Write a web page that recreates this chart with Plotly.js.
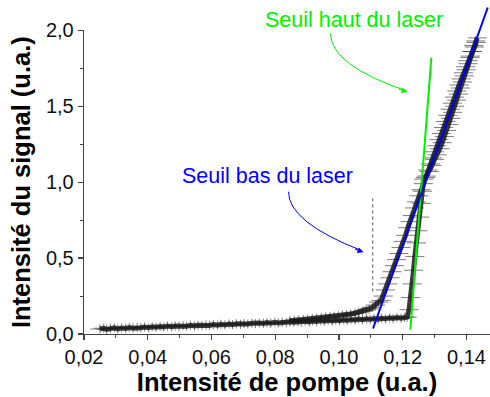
<!DOCTYPE html>
<html>
<head>
<meta charset="utf-8">
<script src="https://cdn.plot.ly/plotly-3.0.1.min.js"></script>
<style>html,body{margin:0;padding:0;background:#fff}#chart{width:490px;height:397px}</style>
</head>
<body>
<div id="chart"></div>
<script>
// Montée (branche inférieure puis saut)
const xUp = [0.0250,0.0262,0.0271,0.0283,0.0295,0.0306,0.0318,0.0331,0.0342,0.0354,0.0367,0.0378,0.0390,0.0403,0.0414,0.0426,0.0439,0.0450,0.0462,0.0475,0.0486,0.0498,0.0511,0.0522,0.0534,0.0547,0.0558,0.0570,0.0583,0.0594,0.0606,0.0619,0.0630,0.0642,0.0655,0.0666,0.0678,0.0691,0.0702,0.0714,0.0727,0.0738,0.0750,0.0763,0.0774,0.0786,0.0799,0.0810,0.0822,0.0835,0.0846,0.0858,0.0871,0.0882,0.0894,0.0907,0.0918,0.0930,0.0943,0.0954,0.0966,0.0979,0.0990,0.1002,0.1015,0.1026,0.1038,0.1051,0.1062,0.1074,0.1087,0.1098,0.1110,0.1123,0.1134,0.1146,0.1159,0.1170,0.1182,0.1195,0.1206,0.1214,
  0.1220,0.1225,0.1230,0.1234,0.1238,0.1243,0.1248,0.1253,0.1258,0.1262,0.1266,
  0.1274,0.1283,0.1292,0.1300,0.1308,0.1316,0.1324,0.1331,0.1338,0.1345,0.1351,0.1357,0.1363,0.1369,0.1375,0.1381,0.1387,0.1393,0.1399,0.1405,0.1411,0.1417,0.1423,0.1429,0.1434];
const yUp = [0.033,0.038,0.030,0.036,0.041,0.034,0.040,0.037,0.043,0.038,0.044,0.041,0.046,0.042,0.048,0.044,0.049,0.046,0.052,0.048,0.053,0.050,0.055,0.051,0.057,0.053,0.058,0.055,0.060,0.056,0.062,0.058,0.064,0.060,0.066,0.062,0.067,0.064,0.069,0.066,0.071,0.068,0.073,0.070,0.075,0.071,0.077,0.073,0.078,0.075,0.080,0.077,0.082,0.078,0.084,0.080,0.086,0.082,0.088,0.084,0.090,0.086,0.092,0.088,0.094,0.090,0.096,0.092,0.098,0.094,0.100,0.096,0.102,0.098,0.104,0.100,0.106,0.102,0.108,0.104,0.110,0.112,
  0.16,0.24,0.33,0.42,0.51,0.60,0.68,0.77,0.86,0.94,1.02,
  1.04,1.07,1.11,1.15,1.18,1.22,1.26,1.30,1.34,1.38,1.42,1.46,1.50,1.54,1.58,1.62,1.66,1.70,1.74,1.78,1.82,1.86,1.90,1.93,1.95];
// Descente (branche de retour)
const xDown = [0.1431,0.1425,0.1419,0.1412,0.1405,0.1398,0.1391,0.1384,0.1377,0.1370,0.1363,0.1356,0.1349,0.1342,0.1335,0.1328,0.1321,0.1314,0.1307,0.1300,0.1293,0.1286,0.1279,0.1272,0.1265,0.1258,0.1251,0.1244,0.1237,0.1230,0.1223,0.1216,0.1209,0.1202,0.1195,0.1188,0.1181,0.1174,0.1167,0.1160,0.1153,0.1146,0.1139,0.1132,0.1124,0.1115,0.1105,0.1095,0.1085,0.1074,0.1062,0.1050,0.1037,0.1024,0.1011,0.0998,0.0985,0.0972,0.0958,0.0944,0.0930,0.0916,0.0902,0.0888,0.0874,0.0860,0.0846];
const yDown = [1.92,1.89,1.86,1.83,1.80,1.76,1.72,1.68,1.64,1.60,1.56,1.52,1.48,1.44,1.40,1.36,1.32,1.28,1.24,1.20,1.16,1.12,1.08,1.03,0.99,0.95,0.91,0.87,0.83,0.78,0.74,0.70,0.65,0.61,0.57,0.53,0.49,0.45,0.41,0.37,0.33,0.29,0.25,0.22,0.21,0.19,0.175,0.165,0.157,0.150,0.143,0.137,0.132,0.128,0.124,0.120,0.117,0.114,0.111,0.108,0.105,0.102,0.099,0.096,0.093,0.090,0.087];
// Droites des seuils
const xBas = [0.1107, 0.1467];
const yBas = [0.036, 2.15];
const xHaut = [0.1224, 0.1290];
const yHaut = [0.029, 1.82];
const xRepere = [0.1106, 0.1106];
const yRepere = [0.28, 0.90];
const xTicks = [0.02,0.04,0.06,0.08,0.10,0.12,0.14];
const yTicks = [0,0.5,1.0,1.5,2.0];

const FONT = 'Arial, "Liberation Sans", sans-serif';
const dataStyle = {
  mode: 'lines', line: {color: 'rgba(25,25,25,0.85)', width: 5},
  error_y: {type: 'constant', value: 0.03, thickness: 0.6, width: 0, color: '#262626'},
  error_x: {type: 'constant', value: 0.003, thickness: 0.6, width: 0, color: '#262626'},
  showlegend: false, hoverinfo: 'skip'
};
const traces = [
  Object.assign({x: xUp, y: yUp}, dataStyle),
  Object.assign({x: xDown, y: yDown}, dataStyle),
  {x: xRepere, y: yRepere, mode: 'lines', line: {color: '#555', width: 1, dash: 'dot'}, showlegend: false},
  {x: xHaut, y: yHaut, mode: 'lines', line: {color: '#00f000', width: 2}, showlegend: false},
  {x: xBas, y: yBas, yaxis: 'y2', mode: 'lines', line: {color: '#0000ff', width: 2}, showlegend: false}
];

const H = 397, mt = 7, mb = 63;
const plotH = H - mt - mb;
const pxPerUnit = (333.7 - 30) / 2.0;
const yTop = plotH / pxPerUnit;

const layout = {
  width: 490, height: 397,
  margin: {l: 84, r: 0, t: mt, b: mb},
  paper_bgcolor: '#fff', plot_bgcolor: 'rgba(0,0,0,0)',
  separators: ', ',
  font: {family: FONT, color: '#111'},
  xaxis: {
    range: [0.02, 0.1474], tickvals: xTicks, tickformat: '.2f', anchor: 'y',
    showgrid: false, zeroline: false, showline: true, linecolor: '#444', linewidth: 1.3,
    ticks: 'outside', ticklen: 5, tickwidth: 1.2, tickcolor: '#444',
    minor: {ticks: 'outside', ticklen: 3, dtick: 0.01, tick0: 0, tickcolor: '#444', tickwidth: 1},
    tickfont: {size: 20, family: FONT, color: '#111'},
    title: {text: 'Intensité de pompe (u.a.)', font: {size: 25.5, family: FONT, color: '#000', weight: 'bold'}, standoff: 4},
    automargin: false
  },
  yaxis: {
    domain: [0, 2.0 / yTop], range: [0, 2.0], tickvals: yTicks, tickformat: '.1f', anchor: 'x',
    showgrid: false, zeroline: false, showline: true, linecolor: '#444', linewidth: 1.3,
    ticks: 'outside', ticklen: 5, tickwidth: 1.2, tickcolor: '#444',
    minor: {ticks: 'outside', ticklen: 3, dtick: 0.25, tick0: 0, tickcolor: '#444', tickwidth: 1},
    tickfont: {size: 20, family: FONT, color: '#111'},
    title: {text: 'Intensité du signal (u.a.)', font: {size: 25.5, family: FONT, color: '#000', weight: 'bold'}, standoff: 8},
    automargin: false
  },
  yaxis2: {
    domain: [0, 1], range: [0, yTop], anchor: 'x',
    visible: false, showgrid: false, zeroline: false, showline: false, ticks: '', showticklabels: false
  },
  shapes: [
    {type: 'path', xref: 'x', yref: 'y2', path: 'M 0.09735,1.980 Q 0.09735,1.770 0.1213,1.600', line: {color: '#00f000', width: 1}},
    {type: 'path', xref: 'x', yref: 'y2', path: 'M 0.08417,0.937 Q 0.08417,0.735 0.1073,0.548', line: {color: '#0000ff', width: 1}}
  ],
  annotations: [
    {x: 0.1046, y: 2.069, xref: 'x', yref: 'y2', text: 'Seuil haut du laser', showarrow: false,
     font: {size: 21.5, family: FONT, color: '#00f000'}, xanchor: 'center', yanchor: 'middle'},
    {x: 0.0775, y: 1.042, xref: 'x', yref: 'y2', text: 'Seuil bas du laser', showarrow: false,
     font: {size: 21.5, family: FONT, color: '#0000ff'}, xanchor: 'center', yanchor: 'middle'},
    {x: 0.12151, y: 1.592, xref: 'x', yref: 'y2', text: '', showarrow: true, ax: -10, ay: -3.5,
     arrowhead: 2, arrowsize: 1.2, arrowwidth: 1, arrowcolor: '#00f000'},
    {x: 0.1077, y: 0.538, xref: 'x', yref: 'y2', text: '', showarrow: true, ax: -10, ay: -3.7,
     arrowhead: 2, arrowsize: 1.2, arrowwidth: 1, arrowcolor: '#0000ff'}
  ]
};

Plotly.newPlot('chart', traces, layout, {staticPlot: true, displayModeBar: false});
</script>
</body>
</html>
